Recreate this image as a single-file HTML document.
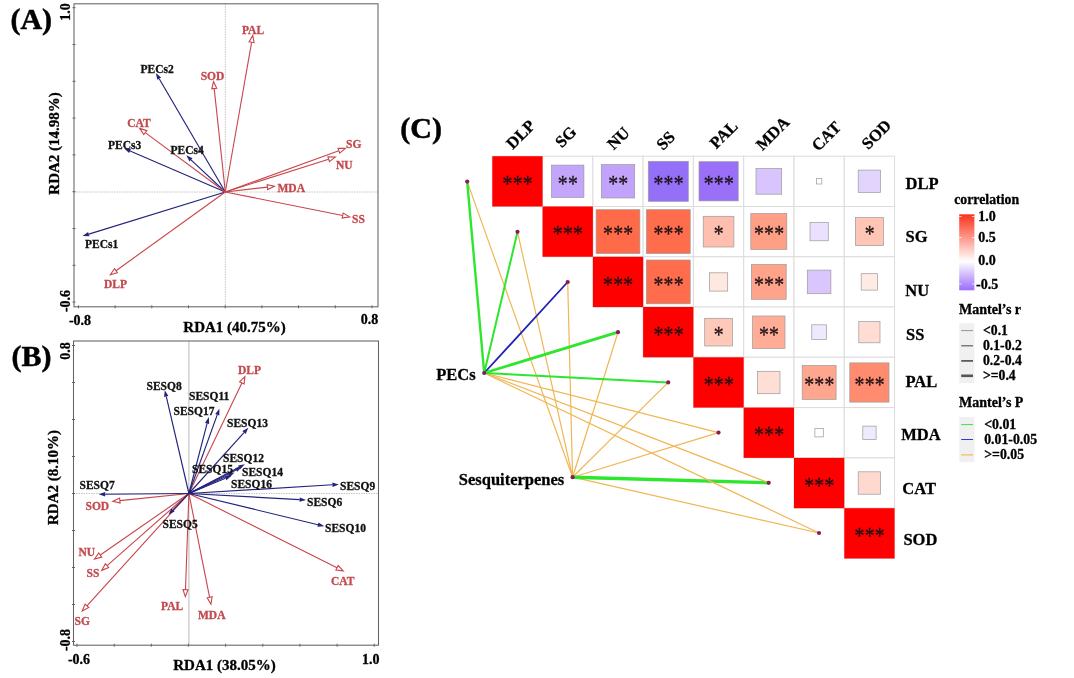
<!DOCTYPE html>
<html><head><meta charset="utf-8"><title>RDA and Mantel test figure</title>
<style>html,body{margin:0;padding:0;background:#fff}svg text{white-space:pre}</style></head>
<body>
<svg width="1074" height="678" viewBox="0 0 1074 678" style="display:block">
<rect width="1074" height="678" fill="#fff"/>
<line x1="74" y1="192" x2="378" y2="192" stroke="#b5b5b5" stroke-width="0.8" stroke-dasharray="1.5,1"/>
<line x1="225.3" y1="3.8" x2="225.3" y2="306.8" stroke="#b5b5b5" stroke-width="0.8" stroke-dasharray="1.5,1"/>
<line x1="225.3" y1="192.0" x2="159.2" y2="78.7" stroke="#23237c" stroke-width="1.15"/>
<polygon points="155.9,73.0 161.1,77.5 157.3,79.8" fill="#23237c"/>
<line x1="225.3" y1="192.0" x2="130.1" y2="151.0" stroke="#23237c" stroke-width="1.15"/>
<polygon points="124.1,148.4 130.9,149.0 129.2,153.0" fill="#23237c"/>
<line x1="225.3" y1="192.0" x2="191.0" y2="159.8" stroke="#23237c" stroke-width="1.15"/>
<polygon points="186.3,155.3 192.5,158.2 189.5,161.4" fill="#23237c"/>
<line x1="225.3" y1="192.0" x2="88.8" y2="234.1" stroke="#23237c" stroke-width="1.15"/>
<polygon points="82.5,236.0 88.1,232.0 89.4,236.2" fill="#23237c"/>
<line x1="225.3" y1="192.0" x2="251.6" y2="42.3" stroke="#c8454b" stroke-width="1.1"/>
<polygon points="252.8,35.4 254.1,42.7 249.1,41.9" fill="#fff" stroke="#c8454b" stroke-width="1.1" stroke-linejoin="miter"/>
<line x1="225.3" y1="192.0" x2="214.2" y2="88.6" stroke="#c8454b" stroke-width="1.1"/>
<polygon points="213.5,81.6 216.7,88.3 211.8,88.8" fill="#fff" stroke="#c8454b" stroke-width="1.1" stroke-linejoin="miter"/>
<line x1="225.3" y1="192.0" x2="145.3" y2="132.6" stroke="#c8454b" stroke-width="1.1"/>
<polygon points="139.7,128.4 146.8,130.6 143.8,134.6" fill="#fff" stroke="#c8454b" stroke-width="1.1" stroke-linejoin="miter"/>
<line x1="225.3" y1="192.0" x2="338.8" y2="150.8" stroke="#c8454b" stroke-width="1.1"/>
<polygon points="345.4,148.4 339.7,153.1 338.0,148.4" fill="#fff" stroke="#c8454b" stroke-width="1.1" stroke-linejoin="miter"/>
<line x1="225.3" y1="192.0" x2="328.6" y2="159.2" stroke="#c8454b" stroke-width="1.1"/>
<polygon points="335.3,157.1 329.4,161.6 327.9,156.8" fill="#fff" stroke="#c8454b" stroke-width="1.1" stroke-linejoin="miter"/>
<line x1="225.3" y1="192.0" x2="267.4" y2="187.1" stroke="#c8454b" stroke-width="1.1"/>
<polygon points="274.4,186.3 267.7,189.6 267.2,184.6" fill="#fff" stroke="#c8454b" stroke-width="1.1" stroke-linejoin="miter"/>
<line x1="225.3" y1="192.0" x2="342.7" y2="215.5" stroke="#c8454b" stroke-width="1.1"/>
<polygon points="349.6,216.9 342.2,218.0 343.2,213.1" fill="#fff" stroke="#c8454b" stroke-width="1.1" stroke-linejoin="miter"/>
<line x1="225.3" y1="192.0" x2="116.0" y2="270.7" stroke="#c8454b" stroke-width="1.1"/>
<polygon points="110.3,274.8 114.5,268.7 117.4,272.7" fill="#fff" stroke="#c8454b" stroke-width="1.1" stroke-linejoin="miter"/>
<text x="140.5" y="73.0" font-size="11.5" fill="#111" stroke="#111" stroke-width="0.3" text-anchor="start" font-family="Liberation Serif, serif" font-weight="bold">PECs2</text>
<text x="108.0" y="148.5" font-size="11.5" fill="#111" stroke="#111" stroke-width="0.3" text-anchor="start" font-family="Liberation Serif, serif" font-weight="bold">PECs3</text>
<text x="170.5" y="154.0" font-size="11.5" fill="#111" stroke="#111" stroke-width="0.3" text-anchor="start" font-family="Liberation Serif, serif" font-weight="bold">PECs4</text>
<text x="85.0" y="248.0" font-size="11.5" fill="#111" stroke="#111" stroke-width="0.3" text-anchor="start" font-family="Liberation Serif, serif" font-weight="bold">PECs1</text>
<text x="253.0" y="34.0" font-size="11.5" fill="#c24a4f" stroke="#c24a4f" stroke-width="0.3" text-anchor="middle" font-family="Liberation Serif, serif" font-weight="bold">PAL</text>
<text x="212.5" y="80.0" font-size="11.5" fill="#c24a4f" stroke="#c24a4f" stroke-width="0.3" text-anchor="middle" font-family="Liberation Serif, serif" font-weight="bold">SOD</text>
<text x="139.0" y="126.5" font-size="11.5" fill="#c24a4f" stroke="#c24a4f" stroke-width="0.3" text-anchor="middle" font-family="Liberation Serif, serif" font-weight="bold">CAT</text>
<text x="346.0" y="148.0" font-size="11.5" fill="#c24a4f" stroke="#c24a4f" stroke-width="0.3" text-anchor="start" font-family="Liberation Serif, serif" font-weight="bold">SG</text>
<text x="336.0" y="168.5" font-size="11.5" fill="#c24a4f" stroke="#c24a4f" stroke-width="0.3" text-anchor="start" font-family="Liberation Serif, serif" font-weight="bold">NU</text>
<text x="277.5" y="191.5" font-size="11.5" fill="#c24a4f" stroke="#c24a4f" stroke-width="0.3" text-anchor="start" font-family="Liberation Serif, serif" font-weight="bold">MDA</text>
<text x="352.0" y="223.0" font-size="11.5" fill="#c24a4f" stroke="#c24a4f" stroke-width="0.3" text-anchor="start" font-family="Liberation Serif, serif" font-weight="bold">SS</text>
<text x="104.0" y="287.5" font-size="11.5" fill="#c24a4f" stroke="#c24a4f" stroke-width="0.3" text-anchor="start" font-family="Liberation Serif, serif" font-weight="bold">DLP</text>
<rect x="74" y="3.8" width="304" height="303.0" fill="none" stroke="#636363" stroke-width="1.05"/>
<line x1="78.4" y1="305.3" x2="78.4" y2="308.3" stroke="#636363" stroke-width="1"/>
<line x1="115.1" y1="305.3" x2="115.1" y2="308.3" stroke="#636363" stroke-width="1"/>
<line x1="151.8" y1="305.3" x2="151.8" y2="308.3" stroke="#636363" stroke-width="1"/>
<line x1="188.5" y1="305.3" x2="188.5" y2="308.3" stroke="#636363" stroke-width="1"/>
<line x1="225.2" y1="305.3" x2="225.2" y2="308.3" stroke="#636363" stroke-width="1"/>
<line x1="261.9" y1="305.3" x2="261.9" y2="308.3" stroke="#636363" stroke-width="1"/>
<line x1="298.6" y1="305.3" x2="298.6" y2="308.3" stroke="#636363" stroke-width="1"/>
<line x1="335.3" y1="305.3" x2="335.3" y2="308.3" stroke="#636363" stroke-width="1"/>
<line x1="372.0" y1="305.3" x2="372.0" y2="308.3" stroke="#636363" stroke-width="1"/>
<line x1="72.5" y1="7.7" x2="75.5" y2="7.7" stroke="#636363" stroke-width="1"/>
<line x1="72.5" y1="44.5" x2="75.5" y2="44.5" stroke="#636363" stroke-width="1"/>
<line x1="72.5" y1="81.3" x2="75.5" y2="81.3" stroke="#636363" stroke-width="1"/>
<line x1="72.5" y1="118.1" x2="75.5" y2="118.1" stroke="#636363" stroke-width="1"/>
<line x1="72.5" y1="154.9" x2="75.5" y2="154.9" stroke="#636363" stroke-width="1"/>
<line x1="72.5" y1="191.7" x2="75.5" y2="191.7" stroke="#636363" stroke-width="1"/>
<line x1="72.5" y1="228.5" x2="75.5" y2="228.5" stroke="#636363" stroke-width="1"/>
<line x1="72.5" y1="265.3" x2="75.5" y2="265.3" stroke="#636363" stroke-width="1"/>
<line x1="72.5" y1="302.1" x2="75.5" y2="302.1" stroke="#636363" stroke-width="1"/>
<text x="10.4" y="29.0" font-size="30" fill="#000" stroke="#000" stroke-width="0.5" text-anchor="start" font-family="Liberation Serif, serif" font-weight="bold">(A)</text>
<text x="70.0" y="12.0" font-size="14" fill="#000" stroke="#000" stroke-width="0.3" text-anchor="middle" font-family="Liberation Serif, serif" font-weight="bold" transform="rotate(-90 70.0 12.0)">1.0</text>
<text x="70.0" y="301.0" font-size="14" fill="#000" stroke="#000" stroke-width="0.3" text-anchor="middle" font-family="Liberation Serif, serif" font-weight="bold" transform="rotate(-90 70.0 301.0)">-0.6</text>
<text x="80.0" y="324.7" font-size="14" fill="#000" stroke="#000" stroke-width="0.3" text-anchor="middle" font-family="Liberation Serif, serif" font-weight="bold">-0.8</text>
<text x="369.5" y="324.2" font-size="14" fill="#000" stroke="#000" stroke-width="0.3" text-anchor="middle" font-family="Liberation Serif, serif" font-weight="bold">0.8</text>
<text x="234.6" y="331.5" font-size="15" fill="#000" stroke="#000" stroke-width="0.3" text-anchor="middle" font-family="Liberation Serif, serif" font-weight="bold">RDA1 (40.75%)</text>
<text x="58.8" y="143.4" font-size="15" fill="#000" stroke="#000" stroke-width="0.3" text-anchor="middle" font-family="Liberation Serif, serif" font-weight="bold" transform="rotate(-90 58.8 143.4)">RDA2 (14.98%)</text>
<line x1="73.5" y1="493.5" x2="378.5" y2="493.5" stroke="#b5b5b5" stroke-width="0.8" stroke-dasharray="1.5,1"/>
<line x1="188.9" y1="341" x2="188.9" y2="645.2" stroke="#a8a8a8" stroke-width="0.8"/>
<line x1="188.9" y1="493.5" x2="241.9" y2="382.9" stroke="#c8454b" stroke-width="1.1"/>
<polygon points="244.9,376.6 244.1,384.0 239.6,381.8" fill="#fff" stroke="#c8454b" stroke-width="1.1" stroke-linejoin="miter"/>
<line x1="188.9" y1="493.5" x2="119.9" y2="500.6" stroke="#c8454b" stroke-width="1.1"/>
<polygon points="112.9,501.3 119.6,498.1 120.1,503.1" fill="#fff" stroke="#c8454b" stroke-width="1.1" stroke-linejoin="miter"/>
<line x1="188.9" y1="493.5" x2="100.3" y2="555.0" stroke="#c8454b" stroke-width="1.1"/>
<polygon points="94.5,559.0 98.8,553.0 101.7,557.1" fill="#fff" stroke="#c8454b" stroke-width="1.1" stroke-linejoin="miter"/>
<line x1="188.9" y1="493.5" x2="107.1" y2="565.7" stroke="#c8454b" stroke-width="1.1"/>
<polygon points="101.8,570.3 105.4,563.8 108.7,567.5" fill="#fff" stroke="#c8454b" stroke-width="1.1" stroke-linejoin="miter"/>
<line x1="188.9" y1="493.5" x2="86.9" y2="605.8" stroke="#c8454b" stroke-width="1.1"/>
<polygon points="82.2,611.0 85.1,604.1 88.8,607.5" fill="#fff" stroke="#c8454b" stroke-width="1.1" stroke-linejoin="miter"/>
<line x1="188.9" y1="493.5" x2="185.5" y2="589.6" stroke="#c8454b" stroke-width="1.1"/>
<polygon points="185.3,596.6 183.0,589.5 188.0,589.7" fill="#fff" stroke="#c8454b" stroke-width="1.1" stroke-linejoin="miter"/>
<line x1="188.9" y1="493.5" x2="209.6" y2="597.3" stroke="#c8454b" stroke-width="1.1"/>
<polygon points="211.0,604.2 207.2,597.8 212.1,596.8" fill="#fff" stroke="#c8454b" stroke-width="1.1" stroke-linejoin="miter"/>
<line x1="188.9" y1="493.5" x2="337.0" y2="567.8" stroke="#c8454b" stroke-width="1.1"/>
<polygon points="343.3,570.9 335.9,570.0 338.2,565.5" fill="#fff" stroke="#c8454b" stroke-width="1.1" stroke-linejoin="miter"/>
<line x1="188.9" y1="493.5" x2="166.3" y2="396.6" stroke="#23237c" stroke-width="1.15"/>
<polygon points="164.8,390.2 168.4,396.1 164.1,397.1" fill="#23237c"/>
<line x1="188.9" y1="493.5" x2="217.2" y2="414.9" stroke="#23237c" stroke-width="1.15"/>
<polygon points="219.4,408.8 219.3,415.6 215.2,414.1" fill="#23237c"/>
<line x1="188.9" y1="493.5" x2="207.1" y2="423.4" stroke="#23237c" stroke-width="1.15"/>
<polygon points="208.8,417.1 209.2,424.0 205.0,422.9" fill="#23237c"/>
<line x1="188.9" y1="493.5" x2="244.0" y2="432.6" stroke="#23237c" stroke-width="1.15"/>
<polygon points="248.4,427.8 245.6,434.1 242.4,431.1" fill="#23237c"/>
<line x1="188.9" y1="493.5" x2="239.1" y2="467.3" stroke="#23237c" stroke-width="1.15"/>
<polygon points="244.9,464.3 240.1,469.3 238.1,465.4" fill="#23237c"/>
<line x1="188.9" y1="493.5" x2="236.1" y2="469.9" stroke="#23237c" stroke-width="1.15"/>
<polygon points="241.9,467.0 237.1,471.8 235.1,467.9" fill="#23237c"/>
<line x1="188.9" y1="493.5" x2="228.7" y2="475.3" stroke="#23237c" stroke-width="1.15"/>
<polygon points="234.6,472.6 229.6,477.3 227.8,473.3" fill="#23237c"/>
<line x1="188.9" y1="493.5" x2="225.5" y2="478.3" stroke="#23237c" stroke-width="1.15"/>
<polygon points="231.5,475.8 226.4,480.3 224.7,476.3" fill="#23237c"/>
<line x1="188.9" y1="493.5" x2="332.4" y2="484.8" stroke="#23237c" stroke-width="1.15"/>
<polygon points="338.9,484.4 332.5,487.0 332.3,482.6" fill="#23237c"/>
<line x1="188.9" y1="493.5" x2="299.6" y2="499.6" stroke="#23237c" stroke-width="1.15"/>
<polygon points="306.1,500.0 299.5,501.8 299.7,497.4" fill="#23237c"/>
<line x1="188.9" y1="493.5" x2="318.0" y2="524.7" stroke="#23237c" stroke-width="1.15"/>
<polygon points="324.3,526.2 317.4,526.8 318.5,522.6" fill="#23237c"/>
<line x1="188.9" y1="493.5" x2="173.0" y2="509.9" stroke="#23237c" stroke-width="1.15"/>
<polygon points="168.5,514.6 171.4,508.4 174.6,511.5" fill="#23237c"/>
<line x1="188.9" y1="493.5" x2="105.2" y2="494.2" stroke="#23237c" stroke-width="1.15"/>
<polygon points="98.7,494.2 105.2,492.0 105.2,496.4" fill="#23237c"/>
<text x="146.5" y="389.5" font-size="11.5" fill="#111" stroke="#111" stroke-width="0.3" text-anchor="start" font-family="Liberation Serif, serif" font-weight="bold">SESQ8</text>
<text x="189.0" y="399.5" font-size="11.5" fill="#111" stroke="#111" stroke-width="0.3" text-anchor="start" font-family="Liberation Serif, serif" font-weight="bold">SESQ11</text>
<text x="173.5" y="415.0" font-size="11.5" fill="#111" stroke="#111" stroke-width="0.3" text-anchor="start" font-family="Liberation Serif, serif" font-weight="bold">SESQ17</text>
<text x="227.0" y="427.0" font-size="11.5" fill="#111" stroke="#111" stroke-width="0.3" text-anchor="start" font-family="Liberation Serif, serif" font-weight="bold">SESQ13</text>
<text x="223.0" y="461.5" font-size="11.5" fill="#111" stroke="#111" stroke-width="0.3" text-anchor="start" font-family="Liberation Serif, serif" font-weight="bold">SESQ12</text>
<text x="242.0" y="475.5" font-size="11.5" fill="#111" stroke="#111" stroke-width="0.3" text-anchor="start" font-family="Liberation Serif, serif" font-weight="bold">SESQ14</text>
<text x="192.0" y="472.5" font-size="11.5" fill="#111" stroke="#111" stroke-width="0.3" text-anchor="start" font-family="Liberation Serif, serif" font-weight="bold">SESQ15</text>
<text x="231.0" y="488.0" font-size="11.5" fill="#111" stroke="#111" stroke-width="0.3" text-anchor="start" font-family="Liberation Serif, serif" font-weight="bold">SESQ16</text>
<text x="340.0" y="490.0" font-size="11.5" fill="#111" stroke="#111" stroke-width="0.3" text-anchor="start" font-family="Liberation Serif, serif" font-weight="bold">SESQ9</text>
<text x="307.0" y="505.5" font-size="11.5" fill="#111" stroke="#111" stroke-width="0.3" text-anchor="start" font-family="Liberation Serif, serif" font-weight="bold">SESQ6</text>
<text x="325.0" y="532.0" font-size="11.5" fill="#111" stroke="#111" stroke-width="0.3" text-anchor="start" font-family="Liberation Serif, serif" font-weight="bold">SESQ10</text>
<text x="162.5" y="528.0" font-size="11.5" fill="#111" stroke="#111" stroke-width="0.3" text-anchor="start" font-family="Liberation Serif, serif" font-weight="bold">SESQ5</text>
<text x="79.5" y="489.3" font-size="11.5" fill="#111" stroke="#111" stroke-width="0.3" text-anchor="start" font-family="Liberation Serif, serif" font-weight="bold">SESQ7</text>
<text x="238.0" y="374.0" font-size="11.5" fill="#c24a4f" stroke="#c24a4f" stroke-width="0.3" text-anchor="start" font-family="Liberation Serif, serif" font-weight="bold">DLP</text>
<text x="85.5" y="510.0" font-size="11.5" fill="#c24a4f" stroke="#c24a4f" stroke-width="0.3" text-anchor="start" font-family="Liberation Serif, serif" font-weight="bold">SOD</text>
<text x="78.5" y="556.0" font-size="11.5" fill="#c24a4f" stroke="#c24a4f" stroke-width="0.3" text-anchor="start" font-family="Liberation Serif, serif" font-weight="bold">NU</text>
<text x="86.5" y="576.5" font-size="11.5" fill="#c24a4f" stroke="#c24a4f" stroke-width="0.3" text-anchor="start" font-family="Liberation Serif, serif" font-weight="bold">SS</text>
<text x="74.5" y="625.0" font-size="11.5" fill="#c24a4f" stroke="#c24a4f" stroke-width="0.3" text-anchor="start" font-family="Liberation Serif, serif" font-weight="bold">SG</text>
<text x="161.0" y="610.0" font-size="11.5" fill="#c24a4f" stroke="#c24a4f" stroke-width="0.3" text-anchor="start" font-family="Liberation Serif, serif" font-weight="bold">PAL</text>
<text x="198.0" y="618.5" font-size="11.5" fill="#c24a4f" stroke="#c24a4f" stroke-width="0.3" text-anchor="start" font-family="Liberation Serif, serif" font-weight="bold">MDA</text>
<text x="331.0" y="584.5" font-size="11.5" fill="#c24a4f" stroke="#c24a4f" stroke-width="0.3" text-anchor="start" font-family="Liberation Serif, serif" font-weight="bold">CAT</text>
<rect x="73.5" y="341" width="305.0" height="304.2" fill="none" stroke="#636363" stroke-width="1.05"/>
<line x1="77.0" y1="643.7" x2="77.0" y2="646.7" stroke="#636363" stroke-width="1"/>
<line x1="114.2" y1="643.7" x2="114.2" y2="646.7" stroke="#636363" stroke-width="1"/>
<line x1="151.3" y1="643.7" x2="151.3" y2="646.7" stroke="#636363" stroke-width="1"/>
<line x1="188.4" y1="643.7" x2="188.4" y2="646.7" stroke="#636363" stroke-width="1"/>
<line x1="225.6" y1="643.7" x2="225.6" y2="646.7" stroke="#636363" stroke-width="1"/>
<line x1="262.8" y1="643.7" x2="262.8" y2="646.7" stroke="#636363" stroke-width="1"/>
<line x1="299.9" y1="643.7" x2="299.9" y2="646.7" stroke="#636363" stroke-width="1"/>
<line x1="337.1" y1="643.7" x2="337.1" y2="646.7" stroke="#636363" stroke-width="1"/>
<line x1="374.2" y1="643.7" x2="374.2" y2="646.7" stroke="#636363" stroke-width="1"/>
<line x1="72.0" y1="345.5" x2="75.0" y2="345.5" stroke="#636363" stroke-width="1"/>
<line x1="72.0" y1="382.5" x2="75.0" y2="382.5" stroke="#636363" stroke-width="1"/>
<line x1="72.0" y1="419.5" x2="75.0" y2="419.5" stroke="#636363" stroke-width="1"/>
<line x1="72.0" y1="456.5" x2="75.0" y2="456.5" stroke="#636363" stroke-width="1"/>
<line x1="72.0" y1="493.5" x2="75.0" y2="493.5" stroke="#636363" stroke-width="1"/>
<line x1="72.0" y1="530.5" x2="75.0" y2="530.5" stroke="#636363" stroke-width="1"/>
<line x1="72.0" y1="567.5" x2="75.0" y2="567.5" stroke="#636363" stroke-width="1"/>
<line x1="72.0" y1="604.5" x2="75.0" y2="604.5" stroke="#636363" stroke-width="1"/>
<line x1="72.0" y1="641.5" x2="75.0" y2="641.5" stroke="#636363" stroke-width="1"/>
<text x="11.6" y="365.8" font-size="30" fill="#000" stroke="#000" stroke-width="0.5" text-anchor="start" font-family="Liberation Serif, serif" font-weight="bold">(B)</text>
<text x="70.0" y="351.0" font-size="14" fill="#000" stroke="#000" stroke-width="0.3" text-anchor="middle" font-family="Liberation Serif, serif" font-weight="bold" transform="rotate(-90 70.0 351.0)">0.8</text>
<text x="70.0" y="640.0" font-size="14" fill="#000" stroke="#000" stroke-width="0.3" text-anchor="middle" font-family="Liberation Serif, serif" font-weight="bold" transform="rotate(-90 70.0 640.0)">-0.8</text>
<text x="79.0" y="664.0" font-size="14" fill="#000" stroke="#000" stroke-width="0.3" text-anchor="middle" font-family="Liberation Serif, serif" font-weight="bold">-0.6</text>
<text x="370.8" y="663.5" font-size="14" fill="#000" stroke="#000" stroke-width="0.3" text-anchor="middle" font-family="Liberation Serif, serif" font-weight="bold">1.0</text>
<text x="224.5" y="670.0" font-size="15" fill="#000" stroke="#000" stroke-width="0.3" text-anchor="middle" font-family="Liberation Serif, serif" font-weight="bold">RDA1 (38.05%)</text>
<text x="57.6" y="477.5" font-size="15" fill="#000" stroke="#000" stroke-width="0.3" text-anchor="middle" font-family="Liberation Serif, serif" font-weight="bold" transform="rotate(-90 57.6 477.5)">RDA2 (8.10%)</text>
<rect x="492.3" y="156.2" width="50.28" height="50.28" fill="#fff" stroke="#dcdcdc" stroke-width="1"/>
<rect x="542.6" y="156.2" width="50.28" height="50.28" fill="#fff" stroke="#dcdcdc" stroke-width="1"/>
<rect x="592.9" y="156.2" width="50.28" height="50.28" fill="#fff" stroke="#dcdcdc" stroke-width="1"/>
<rect x="643.1" y="156.2" width="50.28" height="50.28" fill="#fff" stroke="#dcdcdc" stroke-width="1"/>
<rect x="693.4" y="156.2" width="50.28" height="50.28" fill="#fff" stroke="#dcdcdc" stroke-width="1"/>
<rect x="743.7" y="156.2" width="50.28" height="50.28" fill="#fff" stroke="#dcdcdc" stroke-width="1"/>
<rect x="794.0" y="156.2" width="50.28" height="50.28" fill="#fff" stroke="#dcdcdc" stroke-width="1"/>
<rect x="844.3" y="156.2" width="50.28" height="50.28" fill="#fff" stroke="#dcdcdc" stroke-width="1"/>
<rect x="542.6" y="206.5" width="50.28" height="50.28" fill="#fff" stroke="#dcdcdc" stroke-width="1"/>
<rect x="592.9" y="206.5" width="50.28" height="50.28" fill="#fff" stroke="#dcdcdc" stroke-width="1"/>
<rect x="643.1" y="206.5" width="50.28" height="50.28" fill="#fff" stroke="#dcdcdc" stroke-width="1"/>
<rect x="693.4" y="206.5" width="50.28" height="50.28" fill="#fff" stroke="#dcdcdc" stroke-width="1"/>
<rect x="743.7" y="206.5" width="50.28" height="50.28" fill="#fff" stroke="#dcdcdc" stroke-width="1"/>
<rect x="794.0" y="206.5" width="50.28" height="50.28" fill="#fff" stroke="#dcdcdc" stroke-width="1"/>
<rect x="844.3" y="206.5" width="50.28" height="50.28" fill="#fff" stroke="#dcdcdc" stroke-width="1"/>
<rect x="592.9" y="256.8" width="50.28" height="50.28" fill="#fff" stroke="#dcdcdc" stroke-width="1"/>
<rect x="643.1" y="256.8" width="50.28" height="50.28" fill="#fff" stroke="#dcdcdc" stroke-width="1"/>
<rect x="693.4" y="256.8" width="50.28" height="50.28" fill="#fff" stroke="#dcdcdc" stroke-width="1"/>
<rect x="743.7" y="256.8" width="50.28" height="50.28" fill="#fff" stroke="#dcdcdc" stroke-width="1"/>
<rect x="794.0" y="256.8" width="50.28" height="50.28" fill="#fff" stroke="#dcdcdc" stroke-width="1"/>
<rect x="844.3" y="256.8" width="50.28" height="50.28" fill="#fff" stroke="#dcdcdc" stroke-width="1"/>
<rect x="643.1" y="307.0" width="50.28" height="50.28" fill="#fff" stroke="#dcdcdc" stroke-width="1"/>
<rect x="693.4" y="307.0" width="50.28" height="50.28" fill="#fff" stroke="#dcdcdc" stroke-width="1"/>
<rect x="743.7" y="307.0" width="50.28" height="50.28" fill="#fff" stroke="#dcdcdc" stroke-width="1"/>
<rect x="794.0" y="307.0" width="50.28" height="50.28" fill="#fff" stroke="#dcdcdc" stroke-width="1"/>
<rect x="844.3" y="307.0" width="50.28" height="50.28" fill="#fff" stroke="#dcdcdc" stroke-width="1"/>
<rect x="693.4" y="357.3" width="50.28" height="50.28" fill="#fff" stroke="#dcdcdc" stroke-width="1"/>
<rect x="743.7" y="357.3" width="50.28" height="50.28" fill="#fff" stroke="#dcdcdc" stroke-width="1"/>
<rect x="794.0" y="357.3" width="50.28" height="50.28" fill="#fff" stroke="#dcdcdc" stroke-width="1"/>
<rect x="844.3" y="357.3" width="50.28" height="50.28" fill="#fff" stroke="#dcdcdc" stroke-width="1"/>
<rect x="743.7" y="407.6" width="50.28" height="50.28" fill="#fff" stroke="#dcdcdc" stroke-width="1"/>
<rect x="794.0" y="407.6" width="50.28" height="50.28" fill="#fff" stroke="#dcdcdc" stroke-width="1"/>
<rect x="844.3" y="407.6" width="50.28" height="50.28" fill="#fff" stroke="#dcdcdc" stroke-width="1"/>
<rect x="794.0" y="457.9" width="50.28" height="50.28" fill="#fff" stroke="#dcdcdc" stroke-width="1"/>
<rect x="844.3" y="457.9" width="50.28" height="50.28" fill="#fff" stroke="#dcdcdc" stroke-width="1"/>
<rect x="844.3" y="508.2" width="50.28" height="50.28" fill="#fff" stroke="#dcdcdc" stroke-width="1"/>
<rect x="492.3" y="156.2" width="50.28" height="50.28" fill="#ff0000"/>
<rect x="542.6" y="206.5" width="50.28" height="50.28" fill="#ff0000"/>
<rect x="592.9" y="256.8" width="50.28" height="50.28" fill="#ff0000"/>
<rect x="643.1" y="307.0" width="50.28" height="50.28" fill="#ff0000"/>
<rect x="693.4" y="357.3" width="50.28" height="50.28" fill="#ff0000"/>
<rect x="743.7" y="407.6" width="50.28" height="50.28" fill="#ff0000"/>
<rect x="794.0" y="457.9" width="50.28" height="50.28" fill="#ff0000"/>
<rect x="844.3" y="508.2" width="50.28" height="50.28" fill="#ff0000"/>
<rect x="551.5" y="165.1" width="32.4" height="32.4" fill="#c3a6fb" stroke="#9a9a9a" stroke-width="0.7"/>
<text transform="translate(568.1 190.9) scale(0.88 1)" x="-0.125" y="0" font-size="22.5" fill="#1c1014" stroke="#1c1014" stroke-width="0.3" text-anchor="middle" font-family="Liberation Serif, serif" letter-spacing="0.25">**</text>
<rect x="601.3" y="164.6" width="33.4" height="33.4" fill="#c1a3fb" stroke="#9a9a9a" stroke-width="0.7"/>
<text transform="translate(618.4 190.9) scale(0.88 1)" x="-0.125" y="0" font-size="22.5" fill="#1c1014" stroke="#1c1014" stroke-width="0.3" text-anchor="middle" font-family="Liberation Serif, serif" letter-spacing="0.25">**</text>
<rect x="648.3" y="161.3" width="40.0" height="40.0" fill="#946ff8" stroke="#9a9a9a" stroke-width="0.7"/>
<text transform="translate(668.7 190.9) scale(0.88 1)" x="-0.125" y="0" font-size="22.5" fill="#1c1014" stroke="#1c1014" stroke-width="0.3" text-anchor="middle" font-family="Liberation Serif, serif" letter-spacing="0.25">***</text>
<rect x="699.0" y="161.7" width="39.2" height="39.2" fill="#9a70f9" stroke="#9a9a9a" stroke-width="0.7"/>
<text transform="translate(719.0 190.9) scale(0.88 1)" x="-0.125" y="0" font-size="22.5" fill="#1c1014" stroke="#1c1014" stroke-width="0.3" text-anchor="middle" font-family="Liberation Serif, serif" letter-spacing="0.25">***</text>
<rect x="756.0" y="168.5" width="25.7" height="25.7" fill="#d8c5fd" stroke="#9a9a9a" stroke-width="0.7"/>
<rect x="816.4" y="178.6" width="5.4" height="5.4" fill="#ffffff" stroke="#9a9a9a" stroke-width="0.7"/>
<rect x="858.2" y="170.1" width="22.4" height="22.4" fill="#e3d4fd" stroke="#9a9a9a" stroke-width="0.7"/>
<rect x="596.1" y="209.7" width="43.8" height="43.8" fill="#ff6a49" stroke="#9a9a9a" stroke-width="0.7"/>
<text transform="translate(618.4 241.2) scale(0.88 1)" x="-0.125" y="0" font-size="22.5" fill="#1c1014" stroke="#1c1014" stroke-width="0.3" text-anchor="middle" font-family="Liberation Serif, serif" letter-spacing="0.25">***</text>
<rect x="646.4" y="209.7" width="43.8" height="43.8" fill="#ff6d4c" stroke="#9a9a9a" stroke-width="0.7"/>
<text transform="translate(668.7 241.2) scale(0.88 1)" x="-0.125" y="0" font-size="22.5" fill="#1c1014" stroke="#1c1014" stroke-width="0.3" text-anchor="middle" font-family="Liberation Serif, serif" letter-spacing="0.25">***</text>
<rect x="703.2" y="216.3" width="30.7" height="30.7" fill="#ffbfae" stroke="#9a9a9a" stroke-width="0.7"/>
<text transform="translate(719.0 241.2) scale(0.88 1)" x="-0.125" y="0" font-size="22.5" fill="#1c1014" stroke="#1c1014" stroke-width="0.3" text-anchor="middle" font-family="Liberation Serif, serif" letter-spacing="0.25">*</text>
<rect x="750.8" y="213.6" width="36.0" height="36.0" fill="#ff9f86" stroke="#9a9a9a" stroke-width="0.7"/>
<text transform="translate(769.2 241.2) scale(0.88 1)" x="-0.125" y="0" font-size="22.5" fill="#1c1014" stroke="#1c1014" stroke-width="0.3" text-anchor="middle" font-family="Liberation Serif, serif" letter-spacing="0.25">***</text>
<rect x="810.0" y="222.5" width="18.3" height="18.3" fill="#ebe1fe" stroke="#9a9a9a" stroke-width="0.7"/>
<rect x="855.4" y="217.6" width="28.0" height="28.0" fill="#ffc6b6" stroke="#9a9a9a" stroke-width="0.7"/>
<text transform="translate(869.8 241.2) scale(0.88 1)" x="-0.125" y="0" font-size="22.5" fill="#1c1014" stroke="#1c1014" stroke-width="0.3" text-anchor="middle" font-family="Liberation Serif, serif" letter-spacing="0.25">*</text>
<rect x="646.4" y="260.0" width="43.8" height="43.8" fill="#ff6d4c" stroke="#9a9a9a" stroke-width="0.7"/>
<text transform="translate(668.7 291.5) scale(0.88 1)" x="-0.125" y="0" font-size="22.5" fill="#1c1014" stroke="#1c1014" stroke-width="0.3" text-anchor="middle" font-family="Liberation Serif, serif" letter-spacing="0.25">***</text>
<rect x="709.4" y="272.8" width="18.3" height="18.3" fill="#ffe8e0" stroke="#9a9a9a" stroke-width="0.7"/>
<rect x="751.4" y="264.5" width="34.8" height="34.8" fill="#ffa38b" stroke="#9a9a9a" stroke-width="0.7"/>
<text transform="translate(769.2 291.5) scale(0.88 1)" x="-0.125" y="0" font-size="22.5" fill="#1c1014" stroke="#1c1014" stroke-width="0.3" text-anchor="middle" font-family="Liberation Serif, serif" letter-spacing="0.25">***</text>
<rect x="807.3" y="270.1" width="23.6" height="23.6" fill="#d9c6fd" stroke="#9a9a9a" stroke-width="0.7"/>
<rect x="861.2" y="273.7" width="16.4" height="16.4" fill="#ffebe4" stroke="#9a9a9a" stroke-width="0.7"/>
<rect x="704.7" y="318.3" width="27.7" height="27.7" fill="#ffc9ba" stroke="#9a9a9a" stroke-width="0.7"/>
<text transform="translate(719.0 341.8) scale(0.88 1)" x="-0.125" y="0" font-size="22.5" fill="#1c1014" stroke="#1c1014" stroke-width="0.3" text-anchor="middle" font-family="Liberation Serif, serif" letter-spacing="0.25">*</text>
<rect x="752.6" y="316.0" width="32.4" height="32.4" fill="#ffad97" stroke="#9a9a9a" stroke-width="0.7"/>
<text transform="translate(769.2 341.8) scale(0.88 1)" x="-0.125" y="0" font-size="22.5" fill="#1c1014" stroke="#1c1014" stroke-width="0.3" text-anchor="middle" font-family="Liberation Serif, serif" letter-spacing="0.25">**</text>
<rect x="811.8" y="324.8" width="14.7" height="14.7" fill="#efe8fe" stroke="#9a9a9a" stroke-width="0.7"/>
<rect x="858.8" y="321.6" width="21.2" height="21.2" fill="#ffddd3" stroke="#9a9a9a" stroke-width="0.7"/>
<rect x="757.6" y="371.3" width="22.4" height="22.4" fill="#ffded5" stroke="#9a9a9a" stroke-width="0.7"/>
<rect x="802.2" y="365.5" width="33.9" height="33.9" fill="#ffa68e" stroke="#9a9a9a" stroke-width="0.7"/>
<text transform="translate(819.5 392.1) scale(0.88 1)" x="-0.125" y="0" font-size="22.5" fill="#1c1014" stroke="#1c1014" stroke-width="0.3" text-anchor="middle" font-family="Liberation Serif, serif" letter-spacing="0.25">***</text>
<rect x="849.8" y="362.9" width="39.2" height="39.2" fill="#ff8c6f" stroke="#9a9a9a" stroke-width="0.7"/>
<text transform="translate(869.8 392.1) scale(0.88 1)" x="-0.125" y="0" font-size="22.5" fill="#1c1014" stroke="#1c1014" stroke-width="0.3" text-anchor="middle" font-family="Liberation Serif, serif" letter-spacing="0.25">***</text>
<rect x="814.9" y="428.5" width="8.4" height="8.4" fill="#ffffff" stroke="#9a9a9a" stroke-width="0.7"/>
<rect x="862.8" y="426.1" width="13.3" height="13.3" fill="#f0eafe" stroke="#9a9a9a" stroke-width="0.7"/>
<rect x="858.2" y="471.8" width="22.4" height="22.4" fill="#ffd9cf" stroke="#9a9a9a" stroke-width="0.7"/>
<text transform="translate(517.8 190.9) scale(0.88 1)" x="-0.125" y="0" font-size="22.5" fill="#1c1014" stroke="#1c1014" stroke-width="0.3" text-anchor="middle" font-family="Liberation Serif, serif" letter-spacing="0.25">***</text>
<text transform="translate(568.1 241.2) scale(0.88 1)" x="-0.125" y="0" font-size="22.5" fill="#1c1014" stroke="#1c1014" stroke-width="0.3" text-anchor="middle" font-family="Liberation Serif, serif" letter-spacing="0.25">***</text>
<text transform="translate(618.4 291.5) scale(0.88 1)" x="-0.125" y="0" font-size="22.5" fill="#1c1014" stroke="#1c1014" stroke-width="0.3" text-anchor="middle" font-family="Liberation Serif, serif" letter-spacing="0.25">***</text>
<text transform="translate(668.7 341.8) scale(0.88 1)" x="-0.125" y="0" font-size="22.5" fill="#1c1014" stroke="#1c1014" stroke-width="0.3" text-anchor="middle" font-family="Liberation Serif, serif" letter-spacing="0.25">***</text>
<text transform="translate(719.0 392.1) scale(0.88 1)" x="-0.125" y="0" font-size="22.5" fill="#1c1014" stroke="#1c1014" stroke-width="0.3" text-anchor="middle" font-family="Liberation Serif, serif" letter-spacing="0.25">***</text>
<text transform="translate(769.2 442.3) scale(0.88 1)" x="-0.125" y="0" font-size="22.5" fill="#1c1014" stroke="#1c1014" stroke-width="0.3" text-anchor="middle" font-family="Liberation Serif, serif" letter-spacing="0.25">***</text>
<text transform="translate(819.5 492.6) scale(0.88 1)" x="-0.125" y="0" font-size="22.5" fill="#1c1014" stroke="#1c1014" stroke-width="0.3" text-anchor="middle" font-family="Liberation Serif, serif" letter-spacing="0.25">***</text>
<text transform="translate(869.8 542.9) scale(0.88 1)" x="-0.125" y="0" font-size="22.5" fill="#1c1014" stroke="#1c1014" stroke-width="0.3" text-anchor="middle" font-family="Liberation Serif, serif" letter-spacing="0.25">***</text>
<text x="512.8" y="150.0" font-size="16.5" fill="#000" stroke="#000" stroke-width="0.3" text-anchor="start" font-family="Liberation Serif, serif" font-weight="bold" transform="rotate(-45 512.8 150.0)">DLP</text>
<text x="561.7" y="148.6" font-size="16.5" fill="#000" stroke="#000" stroke-width="0.3" text-anchor="start" font-family="Liberation Serif, serif" font-weight="bold" transform="rotate(-45 561.7 148.6)">SG</text>
<text x="613.8" y="150.6" font-size="16.5" fill="#000" stroke="#000" stroke-width="0.3" text-anchor="start" font-family="Liberation Serif, serif" font-weight="bold" transform="rotate(-45 613.8 150.6)">NU</text>
<text x="663.0" y="151.0" font-size="16.5" fill="#000" stroke="#000" stroke-width="0.3" text-anchor="start" font-family="Liberation Serif, serif" font-weight="bold" transform="rotate(-45 663.0 151.0)">SS</text>
<text x="716.3" y="149.6" font-size="16.5" fill="#000" stroke="#000" stroke-width="0.3" text-anchor="start" font-family="Liberation Serif, serif" font-weight="bold" transform="rotate(-45 716.3 149.6)">PAL</text>
<text x="762.6" y="151.2" font-size="16.5" fill="#000" stroke="#000" stroke-width="0.3" text-anchor="start" font-family="Liberation Serif, serif" font-weight="bold" transform="rotate(-45 762.6 151.2)">MDA</text>
<text x="818.2" y="152.1" font-size="16.5" fill="#000" stroke="#000" stroke-width="0.3" text-anchor="start" font-family="Liberation Serif, serif" font-weight="bold" transform="rotate(-45 818.2 152.1)">CAT</text>
<text x="868.3" y="150.3" font-size="16.5" fill="#000" stroke="#000" stroke-width="0.3" text-anchor="start" font-family="Liberation Serif, serif" font-weight="bold" transform="rotate(-45 868.3 150.3)">SOD</text>
<text x="905.5" y="189.0" font-size="16.5" fill="#000" stroke="#000" stroke-width="0.3" text-anchor="start" font-family="Liberation Serif, serif" font-weight="bold">DLP</text>
<text x="905.5" y="241.7" font-size="16.5" fill="#000" stroke="#000" stroke-width="0.3" text-anchor="start" font-family="Liberation Serif, serif" font-weight="bold">SG</text>
<text x="905.3" y="295.7" font-size="16.5" fill="#000" stroke="#000" stroke-width="0.3" text-anchor="start" font-family="Liberation Serif, serif" font-weight="bold">NU</text>
<text x="906.1" y="340.1" font-size="16.5" fill="#000" stroke="#000" stroke-width="0.3" text-anchor="start" font-family="Liberation Serif, serif" font-weight="bold">SS</text>
<text x="905.5" y="387.3" font-size="16.5" fill="#000" stroke="#000" stroke-width="0.3" text-anchor="start" font-family="Liberation Serif, serif" font-weight="bold">PAL</text>
<text x="901.3" y="439.8" font-size="16.5" fill="#000" stroke="#000" stroke-width="0.3" text-anchor="start" font-family="Liberation Serif, serif" font-weight="bold">MDA</text>
<text x="902.3" y="494.0" font-size="16.5" fill="#000" stroke="#000" stroke-width="0.3" text-anchor="start" font-family="Liberation Serif, serif" font-weight="bold">CAT</text>
<text x="903.4" y="545.3" font-size="16.5" fill="#000" stroke="#000" stroke-width="0.3" text-anchor="start" font-family="Liberation Serif, serif" font-weight="bold">SOD</text>
<text x="400.3" y="138.3" font-size="30" fill="#000" stroke="#000" stroke-width="0.5" text-anchor="start" font-family="Liberation Serif, serif" font-weight="bold">(C)</text>
<line x1="572.6" y1="477.2" x2="467.2" y2="181.6" stroke="#f1b654" stroke-width="1.2" stroke-linecap="round"/>
<line x1="572.6" y1="477.2" x2="517.5" y2="231.8" stroke="#f1b654" stroke-width="1.2" stroke-linecap="round"/>
<line x1="572.6" y1="477.2" x2="567.7" y2="282.0" stroke="#f1b654" stroke-width="1.2" stroke-linecap="round"/>
<line x1="572.6" y1="477.2" x2="618.0" y2="332.2" stroke="#f1b654" stroke-width="1.2" stroke-linecap="round"/>
<line x1="572.6" y1="477.2" x2="668.2" y2="382.4" stroke="#f1b654" stroke-width="1.2" stroke-linecap="round"/>
<line x1="572.6" y1="477.2" x2="718.5" y2="432.6" stroke="#f1b654" stroke-width="1.2" stroke-linecap="round"/>
<line x1="572.6" y1="477.2" x2="819.0" y2="533.0" stroke="#f1b654" stroke-width="1.2" stroke-linecap="round"/>
<line x1="572.6" y1="477.2" x2="768.7" y2="482.8" stroke="#2ee62e" stroke-width="3.4" stroke-linecap="round"/>
<line x1="484.2" y1="373" x2="718.5" y2="432.6" stroke="#f1b654" stroke-width="1.2" stroke-linecap="round"/>
<line x1="484.2" y1="373" x2="768.7" y2="482.8" stroke="#f1b654" stroke-width="1.2" stroke-linecap="round"/>
<line x1="484.2" y1="373" x2="819.0" y2="533.0" stroke="#f1b654" stroke-width="1.2" stroke-linecap="round"/>
<line x1="484.2" y1="373" x2="467.2" y2="181.6" stroke="#2ee62e" stroke-width="2.4" stroke-linecap="round"/>
<line x1="484.2" y1="373" x2="517.5" y2="231.8" stroke="#2ee62e" stroke-width="2.0" stroke-linecap="round"/>
<line x1="484.2" y1="373" x2="567.7" y2="282.0" stroke="#2222b4" stroke-width="1.8" stroke-linecap="round"/>
<line x1="484.2" y1="373" x2="618.0" y2="332.2" stroke="#2ee62e" stroke-width="2.8" stroke-linecap="round"/>
<line x1="484.2" y1="373" x2="668.2" y2="382.4" stroke="#2ee62e" stroke-width="2.0" stroke-linecap="round"/>
<circle cx="467.2" cy="181.6" r="2.1" fill="#8a1a5a"/>
<circle cx="517.5" cy="231.8" r="2.1" fill="#8a1a5a"/>
<circle cx="567.7" cy="282.0" r="2.1" fill="#8a1a5a"/>
<circle cx="618.0" cy="332.2" r="2.1" fill="#8a1a5a"/>
<circle cx="668.2" cy="382.4" r="2.1" fill="#8a1a5a"/>
<circle cx="718.5" cy="432.6" r="2.1" fill="#8a1a5a"/>
<circle cx="768.7" cy="482.8" r="2.1" fill="#8a1a5a"/>
<circle cx="819.0" cy="533.0" r="2.1" fill="#8a1a5a"/>
<circle cx="484.2" cy="373.0" r="2.1" fill="#8a1a5a"/>
<circle cx="572.6" cy="477.2" r="2.1" fill="#8a1a5a"/>
<text x="436.2" y="380.0" font-size="16.5" fill="#000" stroke="#000" stroke-width="0.3" text-anchor="start" font-family="Liberation Serif, serif" font-weight="bold">PECs</text>
<text x="458.8" y="484.5" font-size="16.5" fill="#000" stroke="#000" stroke-width="0.3" text-anchor="start" font-family="Liberation Serif, serif" font-weight="bold">Sesquiterpenes</text>
<defs><linearGradient id="cb" x1="0" y1="0" x2="0" y2="1"><stop offset="0" stop-color="#fb3219"/><stop offset="0.62" stop-color="#ffffff"/><stop offset="1" stop-color="#9b6cfb"/></linearGradient></defs>
<text x="954.2" y="204.3" font-size="13.8" fill="#000" stroke="#000" stroke-width="0.3" text-anchor="start" font-family="Liberation Serif, serif" font-weight="bold">correlation</text>
<rect x="959.2" y="214.3" width="15.2" height="76" fill="url(#cb)"/>
<text x="987.1" y="221.1" font-size="14" fill="#000" stroke="#000" stroke-width="0.3" text-anchor="middle" font-family="Liberation Serif, serif" font-weight="bold">1.0</text>
<line x1="959.2" y1="216.5" x2="961.7" y2="216.5" stroke="#fff" stroke-width="0.7"/><line x1="971.9" y1="216.5" x2="974.4" y2="216.5" stroke="#fff" stroke-width="0.7"/>
<text x="987.1" y="242.1" font-size="14" fill="#000" stroke="#000" stroke-width="0.3" text-anchor="middle" font-family="Liberation Serif, serif" font-weight="bold">0.5</text>
<line x1="959.2" y1="237.5" x2="961.7" y2="237.5" stroke="#fff" stroke-width="0.7"/><line x1="971.9" y1="237.5" x2="974.4" y2="237.5" stroke="#fff" stroke-width="0.7"/>
<text x="987.1" y="265.1" font-size="14" fill="#000" stroke="#000" stroke-width="0.3" text-anchor="middle" font-family="Liberation Serif, serif" font-weight="bold">0.0</text>
<line x1="959.2" y1="260.5" x2="961.7" y2="260.5" stroke="#fff" stroke-width="0.7"/><line x1="971.9" y1="260.5" x2="974.4" y2="260.5" stroke="#fff" stroke-width="0.7"/>
<text x="987.1" y="288.6" font-size="14" fill="#000" stroke="#000" stroke-width="0.3" text-anchor="middle" font-family="Liberation Serif, serif" font-weight="bold">-0.5</text>
<line x1="959.2" y1="284" x2="961.7" y2="284" stroke="#fff" stroke-width="0.7"/><line x1="971.9" y1="284" x2="974.4" y2="284" stroke="#fff" stroke-width="0.7"/>
<text x="959.0" y="314.2" font-size="14" fill="#000" stroke="#000" stroke-width="0.3" text-anchor="start" font-family="Liberation Serif, serif" font-weight="bold">Mantel’s r</text>
<rect x="959.3" y="323.2" width="15.1" height="59.8" fill="#f0f0f0"/>
<line x1="961.2" y1="330.6" x2="973" y2="330.6" stroke="#555" stroke-width="0.6"/>
<text x="983.0" y="335.1" font-size="13.7" fill="#000" stroke="#000" stroke-width="0.3" text-anchor="start" font-family="Liberation Serif, serif" font-weight="bold">&lt;0.1</text>
<line x1="961.2" y1="345.8" x2="973" y2="345.8" stroke="#555" stroke-width="1.1"/>
<text x="983.0" y="350.3" font-size="13.7" fill="#000" stroke="#000" stroke-width="0.3" text-anchor="start" font-family="Liberation Serif, serif" font-weight="bold">0.1-0.2</text>
<line x1="961.2" y1="360.9" x2="973" y2="360.9" stroke="#555" stroke-width="1.7"/>
<text x="983.0" y="365.4" font-size="13.7" fill="#000" stroke="#000" stroke-width="0.3" text-anchor="start" font-family="Liberation Serif, serif" font-weight="bold">0.2-0.4</text>
<line x1="961.2" y1="375.8" x2="973" y2="375.8" stroke="#555" stroke-width="2.6"/>
<text x="983.0" y="380.3" font-size="13.7" fill="#000" stroke="#000" stroke-width="0.3" text-anchor="start" font-family="Liberation Serif, serif" font-weight="bold">&gt;=0.4</text>
<text x="959.0" y="407.2" font-size="14" fill="#000" stroke="#000" stroke-width="0.3" text-anchor="start" font-family="Liberation Serif, serif" font-weight="bold">Mantel’s P</text>
<rect x="959.3" y="417" width="15.1" height="45.2" fill="#f0f0f0"/>
<line x1="961.2" y1="424.6" x2="973" y2="424.6" stroke="#45dc45" stroke-width="1"/>
<text x="984.2" y="429.1" font-size="13.8" fill="#000" stroke="#000" stroke-width="0.3" text-anchor="start" font-family="Liberation Serif, serif" font-weight="bold">&lt;0.01</text>
<line x1="961.2" y1="439.5" x2="973" y2="439.5" stroke="#3535d0" stroke-width="1"/>
<text x="984.2" y="444.0" font-size="13.8" fill="#000" stroke="#000" stroke-width="0.3" text-anchor="start" font-family="Liberation Serif, serif" font-weight="bold">0.01-0.05</text>
<line x1="961.2" y1="454.9" x2="973" y2="454.9" stroke="#f0b040" stroke-width="1"/>
<text x="984.2" y="459.4" font-size="13.8" fill="#000" stroke="#000" stroke-width="0.3" text-anchor="start" font-family="Liberation Serif, serif" font-weight="bold">&gt;=0.05</text>
</svg>
</body></html>
